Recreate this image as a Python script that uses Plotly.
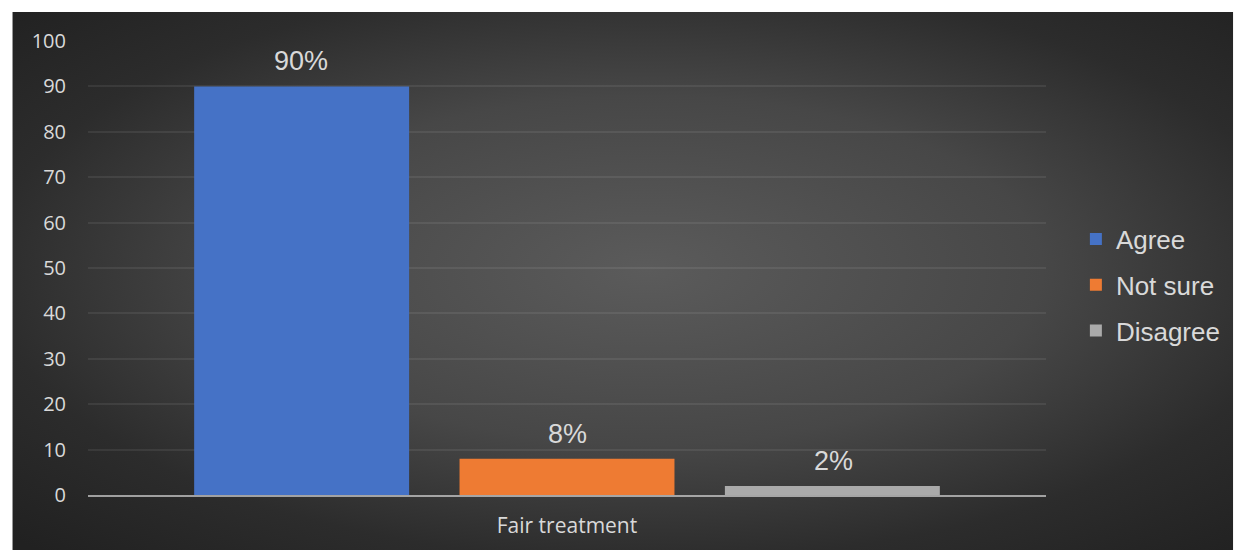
import base64
import plotly.graph_objects as go

categories = ["Fair treatment"]
series_names = ["Agree", "Not sure", "Disagree"]
series_values = [[90], [8], [2]]
series_colors = ["#4572c6", "#ee7b33", "#aaaaaa"]
y_ticks = [0, 10, 20, 30, 40, 50, 60, 70, 80, 90, 100]

W, H = 1238, 550
L, R, T, B = 88, 188, 41, 55
pw, ph = W - L - R, H - T - B
BARGAP, BARGROUPGAP = 0.169, 0.19

# background panel (dark radial gradient) from px (12,12) to (1238,550)
bx0, by0, bx1, by1 = 12, 12, 1238, 550
svg = (
    '<svg xmlns="http://www.w3.org/2000/svg" width="1226" height="538" viewBox="0 0 1226 538" '
    'preserveAspectRatio="none"><defs><radialGradient id="g" cx="0.52" cy="0.48" r="0.72">'
    '<stop offset="0" stop-color="#5b5b5b"/><stop offset="0.45" stop-color="#474747"/>'
    '<stop offset="0.75" stop-color="#2c2c2c"/><stop offset="1" stop-color="#212121"/>'
    '</radialGradient></defs><rect width="1226" height="538" fill="url(#g)"/></svg>'
)
src = "data:image/svg+xml;base64," + base64.b64encode(svg.encode()).decode()
px0 = (bx0 - L) / pw
px1 = (bx1 - L) / pw
py_top = (H - B - by0) / ph
py_bot = (H - B - by1) / ph

fig = go.Figure()
n = len(series_names)
slot_px = pw * (1 - BARGAP) / n
annotations = []
for i, (name, vals, col) in enumerate(zip(series_names, series_values, series_colors)):
    fig.add_trace(go.Bar(
        x=categories, y=vals, name=name,
        marker=dict(color=col, line=dict(width=0)),
        legendgroup=name,
    ))
    for c, v in zip(categories, vals):
        annotations.append(dict(
            x=c, y=v, xref="x", yref="y", text=f"{v}%", showarrow=False,
            xanchor="center", yanchor="bottom", yshift=8,
            xshift=(i - (n - 1) / 2) * slot_px,
            font=dict(family="Liberation Sans, Arial", size=27, color="#d9d9d9"),
        ))

fig.update_layout(
    width=W, height=H,
    margin=dict(l=L, r=R, t=T, b=B, pad=0),
    paper_bgcolor="white", plot_bgcolor="rgba(0,0,0,0)",
    barmode="group", bargap=BARGAP, bargroupgap=BARGROUPGAP,
    images=[dict(source=src, xref="paper", yref="paper", x=px0, y=py_top,
                 sizex=px1 - px0, sizey=py_top - py_bot, sizing="stretch",
                 xanchor="left", yanchor="top", layer="below")],
    annotations=annotations,
    legend=dict(x=(1080 - L) / pw, y=(H - B - 285) / ph, xanchor="left", yanchor="middle",
                font=dict(family="Liberation Sans, Arial", size=26, color="#d9d9d9"),
                bgcolor="rgba(0,0,0,0)", traceorder="grouped", tracegroupgap=9,
                itemwidth=30),
    showlegend=True,
)
fig.update_xaxes(
    showgrid=False, showline=True, linecolor="rgba(225,225,225,0.65)", linewidth=2,
    layer="above traces", ticks="", ticklabelstandoff=11,
    tickfont=dict(family="Open Sans", size=21, color="#d9d9d9"),
)
fig.update_yaxes(
    range=[0, 100], tickvals=y_ticks, showgrid=True,
    gridcolor="rgba(255,255,255,0.075)", gridwidth=1.5, zeroline=False,
    showline=False, ticks="", ticklabelstandoff=21,
    tickfont=dict(family="Open Sans", size=20, color="#d9d9d9"),
)
fig.write_html(
    "out.html",
    config={"displayModeBar": False},
    post_script="document.body.style.margin='0';document.body.style.overflow='hidden';",
)
